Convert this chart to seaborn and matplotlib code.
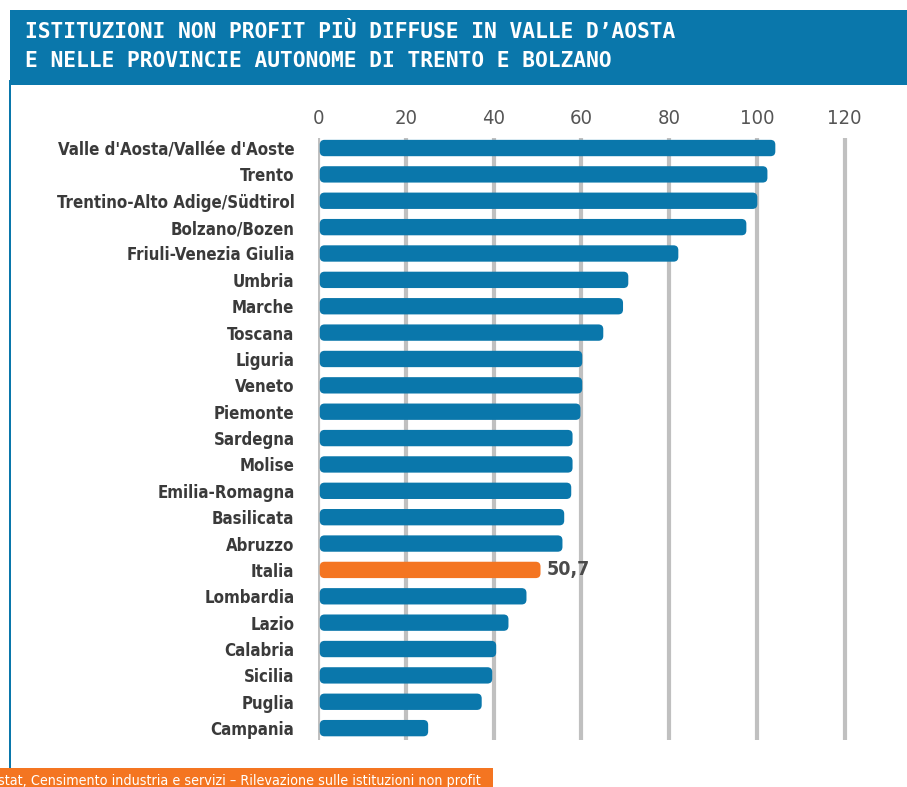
import matplotlib
matplotlib.use('Agg')
import matplotlib.pyplot as plt
from matplotlib import font_manager
from matplotlib.patches import FancyBboxPatch, Rectangle
import pandas as pd
import seaborn as sns

regions = ["Valle d'Aosta/Vallée d'Aoste", "Trento", "Trentino-Alto Adige/Südtirol",
           "Bolzano/Bozen", "Friuli-Venezia Giulia", "Umbria", "Marche", "Toscana",
           "Liguria", "Veneto", "Piemonte", "Sardegna", "Molise", "Emilia-Romagna",
           "Basilicata", "Abruzzo", "Italia", "Lombardia", "Lazio", "Calabria",
           "Sicilia", "Puglia", "Campania"]
values = [104.2, 102.4, 100.1, 97.6, 82.1, 70.7, 69.5, 65.0, 60.2, 60.2, 59.8,
          58.0, 58.0, 57.7, 56.1, 55.7, 50.7, 47.5, 43.4, 40.6, 39.7, 37.3, 25.1]
xticks = [0, 20, 40, 60, 80, 100, 120]
highlight = "Italia"

BLUE = "#0a77ab"
ORANGE = "#f47521"

# pick a condensed face if one exists
fl = font_manager.fontManager.ttflist
if any(f.name == 'DejaVu Sans' and f.stretch == 'condensed' for f in fl):
    cond, stretch, k = ['DejaVu Sans', 'DejaVu Sans'], 'condensed', 1.0
else:
    cond, stretch, k = ['Roboto', 'DejaVu Sans'], 'normal', 0.93

df = pd.DataFrame({"regione": regions, "valore": values})
palette = {r: (ORANGE if r == highlight else BLUE) for r in regions}

sns.set_style("white")
fig = plt.figure(figsize=(9.07, 7.87), dpi=100)
ax = fig.add_axes([318/907, 47/787, 553/907, 602/787])

sns.barplot(data=df, x="valore", y="regione", hue="regione", palette=palette,
            order=regions, width=0.62, saturation=1, legend=False, ax=ax)

ax.set_xlim(0, 126)
ax.set_ylim(22.45, -0.38)

# rounded bar ends
for p in list(ax.patches):
    x0, y0, w, h = p.get_x(), p.get_y(), p.get_width(), p.get_height()
    fb = FancyBboxPatch((x0 + 0.4, y0), w - 0.4, h, boxstyle="round,pad=0,rounding_size=1.1",
                        mutation_aspect=0.166, facecolor=p.get_facecolor(), edgecolor='none', zorder=2)
    ax.add_patch(fb)
    p.remove()

ax.set_xticks(xticks)
ax.xaxis.tick_top()
ax.tick_params(axis='x', length=0, pad=7, labelsize=14.5 * k, labelcolor="#555555")
ax.tick_params(axis='y', length=0, pad=17, labelsize=12.1 * k, labelcolor="#3a3a3a")
for lab in ax.get_xticklabels():
    lab.set_family(cond)
    lab.set_fontstretch(stretch)
    lab.set_fontweight('medium')
for lab in ax.get_yticklabels():
    lab.set_family(cond)
    lab.set_fontstretch(stretch)
    lab.set_fontweight('bold')
ax.set_xlabel("")
ax.set_ylabel("")
for s in ax.spines.values():
    s.set_visible(False)
ax.grid(False)
for t in xticks:
    ax.axvline(t, color="#c0c0c0", lw=3, zorder=0)

i = regions.index(highlight)
ax.text(values[i] + 1.3, i, f"{values[i]:.1f}".replace(".", ","), va='center',
        ha='left', fontsize=14 * k, fontweight='bold', color="#4a4a4a",
        family=cond, fontstretch=stretch)

# header band
fig.patches.append(FancyBboxPatch((10, 702), 1000, 75, boxstyle="round,pad=0,rounding_size=18",
                                  transform=None, facecolor=BLUE, edgecolor='none'))
fig.patches.append(Rectangle((10, 702), 40, 75, transform=None, facecolor=BLUE, edgecolor='none'))
fig.patches.append(Rectangle((896, 702), 11, 50, transform=None, facecolor=BLUE, edgecolor='none'))
fig.text(25/907, 1 - 32/787, "ISTITUZIONI NON PROFIT PIÙ DIFFUSE IN VALLE D’AOSTA",
         color="white", fontsize=15.3, fontweight='bold', family='DejaVu Sans Mono', va='center')
fig.text(25/907, 1 - 61/787, "E NELLE PROVINCIE AUTONOME DI TRENTO E BOLZANO",
         color="white", fontsize=15.3, fontweight='bold', family='DejaVu Sans Mono', va='center')

# left border line
fig.patches.append(Rectangle((9, 17), 2, 690, transform=None, facecolor=BLUE, edgecolor='none'))

# footer
fig.patches.append(Rectangle((0, 0), 493, 19, transform=None, facecolor=ORANGE, edgecolor='none'))
fig.text(481/907, 6/787,
         "Fonte: Istat, Censimento industria e servizi – Rilevazione sulle istituzioni non profit",
         color="white", fontsize=10.3 * k, family=cond, fontstretch=stretch, ha='right', va='center')

fig.savefig("out.png", dpi=100)
